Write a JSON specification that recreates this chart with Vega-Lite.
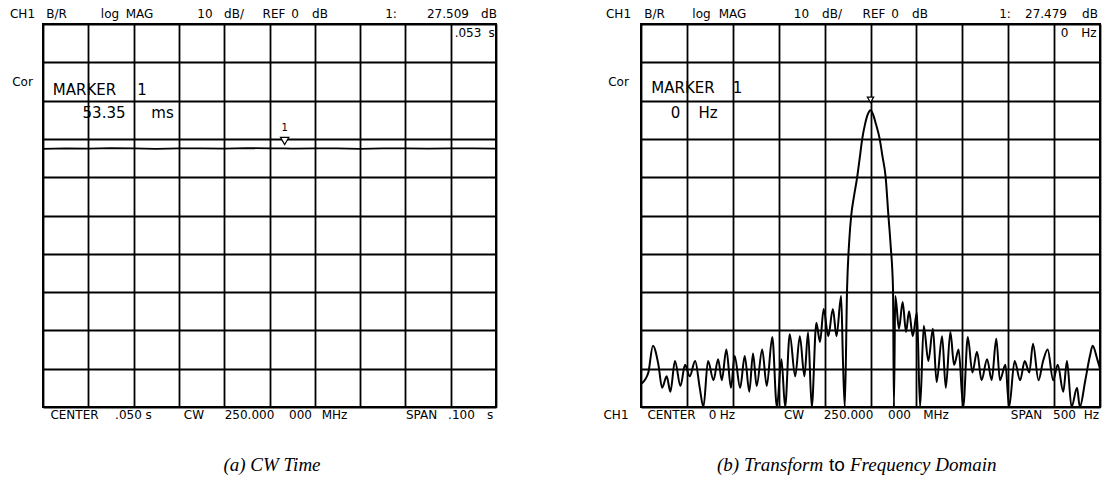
{
  "$schema": "https://vega.github.io/schema/vega-lite/v6.json",
  "background": "white",
  "padding": {"left": 8, "top": 7, "right": 2, "bottom": 2},
  "autosize": {"type": "pad"},
  "spacing": 145,
  "bounds": "flush",
  "config": {
    "view": {"stroke": "black", "strokeWidth": 2},
    "axis": {"grid": true, "gridColor": "black", "gridOpacity": 1, "gridWidth": 1.8, "labels": false, "ticks": false, "domain": false, "title": null},
    "text": {"font": "DejaVu Sans", "fontSize": 12, "color": "black", "align": "center", "baseline": "middle"}
  },
  "datasets": {
    "traceL": [
      {"x": 0, "y": 27.4}, {"x": 0.005, "y": 27.5}, {"x": 0.01, "y": 27.45}, {"x": 0.015, "y": 27.6},
      {"x": 0.02, "y": 27.5}, {"x": 0.025, "y": 27.4}, {"x": 0.03, "y": 27.55}, {"x": 0.035, "y": 27.5},
      {"x": 0.04, "y": 27.45}, {"x": 0.045, "y": 27.6}, {"x": 0.05, "y": 27.5}, {"x": 0.05335, "y": 27.51},
      {"x": 0.055, "y": 27.45}, {"x": 0.06, "y": 27.55}, {"x": 0.065, "y": 27.5}, {"x": 0.07, "y": 27.4},
      {"x": 0.075, "y": 27.55}, {"x": 0.08, "y": 27.5}, {"x": 0.085, "y": 27.45}, {"x": 0.09, "y": 27.55},
      {"x": 0.095, "y": 27.5}, {"x": 0.1, "y": 27.45}
    ],
    "markerL": [{"x": 0.05335, "y": 29.45, "text": "1", "ty": 32.85}],
    "markerR": [{"x": 0, "y": 30.2}],
    "labL": [
      {"x": -0.004525, "y": 62.61, "text": "CH1"}, {"x": 0.00298, "y": 62.61, "text": "B/R"},
      {"x": 0.01479, "y": 62.61, "text": "log"}, {"x": 0.0213, "y": 62.61, "text": "MAG"},
      {"x": 0.03576, "y": 62.61, "text": "10"}, {"x": 0.04216, "y": 62.61, "text": "dB/"},
      {"x": 0.05099, "y": 62.61, "text": "REF"}, {"x": 0.05563, "y": 62.61, "text": "0"},
      {"x": 0.06115, "y": 62.61, "text": "dB"}, {"x": 0.07682, "y": 62.61, "text": "1:"},
      {"x": 0.0894, "y": 62.61, "text": "27.509"}, {"x": 0.09845, "y": 62.61, "text": "dB"},
      {"x": 0.09382, "y": 57.65, "text": ".053"}, {"x": 0.09901, "y": 57.65, "text": "s"},
      {"x": -0.004525, "y": 44.86, "text": "Cor"},
      {"x": 0.00695, "y": -42.09, "text": "CENTER"}, {"x": 0.01887, "y": -42.09, "text": ".050"},
      {"x": 0.02329, "y": -42.09, "text": "s"}, {"x": 0.03333, "y": -42.09, "text": "CW"},
      {"x": 0.04558, "y": -42.09, "text": "250.000"}, {"x": 0.05684, "y": -42.09, "text": "000"},
      {"x": 0.06435, "y": -42.09, "text": "MHz"}, {"x": 0.08356, "y": -42.09, "text": "SPAN"},
      {"x": 0.09238, "y": -42.09, "text": ".100"}, {"x": 0.09868, "y": -42.09, "text": "s"}
    ],
    "mkL": [
      {"x": 0.00916, "y": 42.77, "text": "MARKER"}, {"x": 0.02185, "y": 42.77, "text": "1"},
      {"x": 0.01347, "y": 36.76, "text": "53.35"}, {"x": 0.02638, "y": 36.76, "text": "ms"}
    ],
    "capL": [{"x": 0.05055, "y": -55.15, "text": "(a) CW Time"}],
    "traceR": [
      {"x": -250, "y": -44}, {"x": -246, "y": -43}, {"x": -242, "y": -41}, {"x": -237, "y": -34},
      {"x": -231, "y": -39}, {"x": -227, "y": -45}, {"x": -222, "y": -42}, {"x": -218, "y": -46},
      {"x": -213, "y": -38}, {"x": -207, "y": -44.5}, {"x": -202, "y": -39}, {"x": -197, "y": -42},
      {"x": -191, "y": -38}, {"x": -186, "y": -45}, {"x": -182, "y": -50}, {"x": -177, "y": -38},
      {"x": -171, "y": -43}, {"x": -166, "y": -37.5}, {"x": -162, "y": -43}, {"x": -157, "y": -35},
      {"x": -152, "y": -45}, {"x": -148, "y": -36.7}, {"x": -142, "y": -45}, {"x": -137, "y": -36.7},
      {"x": -132, "y": -46}, {"x": -128, "y": -36}, {"x": -124, "y": -44.5}, {"x": -118, "y": -35},
      {"x": -113, "y": -44.5}, {"x": -107, "y": -31.7}, {"x": -102, "y": -50}, {"x": -97, "y": -37.5},
      {"x": -93, "y": -50}, {"x": -88, "y": -31}, {"x": -82, "y": -42}, {"x": -77, "y": -31.5},
      {"x": -72, "y": -42}, {"x": -68, "y": -30.5}, {"x": -64, "y": -50}, {"x": -59, "y": -28},
      {"x": -55, "y": -33}, {"x": -51, "y": -24.4}, {"x": -46, "y": -31.5}, {"x": -41, "y": -24.4},
      {"x": -37, "y": -31.5}, {"x": -32, "y": -21}, {"x": -30, "y": -38}, {"x": -28, "y": -50},
      {"x": -25.5, "y": -19}, {"x": -23, "y": -6}, {"x": -21, "y": 0}, {"x": -18, "y": 5},
      {"x": -14.5, "y": 10}, {"x": -12, "y": 14.5}, {"x": -9, "y": 20}, {"x": -6, "y": 23.8},
      {"x": -3, "y": 26.4}, {"x": 0, "y": 27.48}, {"x": 3, "y": 26.3}, {"x": 6, "y": 23.8},
      {"x": 10, "y": 20}, {"x": 13, "y": 15.5}, {"x": 16.5, "y": 10}, {"x": 19.5, "y": 0},
      {"x": 22, "y": -8}, {"x": 24.5, "y": -19}, {"x": 25.5, "y": -50}, {"x": 27, "y": -21},
      {"x": 31, "y": -29.6}, {"x": 35, "y": -22.6}, {"x": 38.7, "y": -30.4}, {"x": 42, "y": -25},
      {"x": 46, "y": -31.5}, {"x": 50.6, "y": -25.3}, {"x": 54, "y": -50}, {"x": 58, "y": -28.8},
      {"x": 63, "y": -38}, {"x": 68, "y": -29.6}, {"x": 72, "y": -43.5}, {"x": 78, "y": -31.5},
      {"x": 82, "y": -45}, {"x": 87, "y": -30.4}, {"x": 91, "y": -39}, {"x": 96, "y": -35},
      {"x": 101, "y": -50}, {"x": 106, "y": -31.7}, {"x": 111, "y": -41}, {"x": 116, "y": -35.6},
      {"x": 121, "y": -43}, {"x": 127, "y": -37.5}, {"x": 132, "y": -43}, {"x": 137, "y": -32.2},
      {"x": 141, "y": -43}, {"x": 147, "y": -39}, {"x": 151, "y": -50}, {"x": 157, "y": -38},
      {"x": 163, "y": -43}, {"x": 168, "y": -38}, {"x": 173, "y": -41}, {"x": 177, "y": -33.5},
      {"x": 183, "y": -43}, {"x": 188, "y": -38}, {"x": 193, "y": -35}, {"x": 199, "y": -43},
      {"x": 204, "y": -39}, {"x": 210, "y": -46}, {"x": 214, "y": -38}, {"x": 219, "y": -50},
      {"x": 225, "y": -45}, {"x": 228, "y": -50}, {"x": 234, "y": -43}, {"x": 239, "y": -36.7},
      {"x": 242, "y": -34}, {"x": 247, "y": -37.5}, {"x": 250, "y": -40}
    ],
    "labR": [
      {"x": -274.51, "y": 52.61, "text": "CH1"}, {"x": -235.29, "y": 52.61, "text": "B/R"},
      {"x": -184.1, "y": 52.61, "text": "log"}, {"x": -150.33, "y": 52.61, "text": "MAG"},
      {"x": -75.16, "y": 52.61, "text": "10"}, {"x": -41.94, "y": 52.61, "text": "dB/"},
      {"x": 3.81, "y": 52.61, "text": "REF"}, {"x": 26.69, "y": 52.61, "text": "0"},
      {"x": 53.92, "y": 52.61, "text": "dB"}, {"x": 146.51, "y": 52.61, "text": "1:"},
      {"x": 191.17, "y": 52.61, "text": "27.479"}, {"x": 239.1, "y": 52.61, "text": "dB"},
      {"x": 211.33, "y": 47.65, "text": "0"}, {"x": 238.02, "y": 47.65, "text": "Hz"},
      {"x": -274.51, "y": 34.86, "text": "Cor"},
      {"x": -277.23, "y": -52.09, "text": "CH1"}, {"x": -216.78, "y": -52.09, "text": "CENTER"},
      {"x": -172.11, "y": -52.09, "text": "0"}, {"x": -155.77, "y": -52.09, "text": "Hz"},
      {"x": -83.33, "y": -52.09, "text": "CW"}, {"x": -23.97, "y": -52.09, "text": "250.000"},
      {"x": 31.59, "y": -52.09, "text": "000"}, {"x": 71.35, "y": -52.09, "text": "MHz"},
      {"x": 169.93, "y": -52.09, "text": "SPAN"}, {"x": 211.33, "y": -52.09, "text": "500"},
      {"x": 240.74, "y": -52.09, "text": "Hz"}
    ],
    "mkR": [
      {"x": -204.25, "y": 33.42, "text": "MARKER"}, {"x": -144.88, "y": 33.42, "text": "1"},
      {"x": -212.42, "y": 26.76, "text": "0"}, {"x": -177.02, "y": 26.76, "text": "Hz"}
    ],
    "capRi": [
      {"x": -167.21, "y": -65.15, "text": "(b) Transform"},
      {"x": -22.33, "y": -65.15, "text": "Frequency Domain"}
    ],
    "capRu": [{"x": -45.21, "y": -65.15, "text": "to"}]
  },
  "hconcat": [
    {
      "width": 453,
      "height": 383,
      "encoding": {
        "x": {"field": "x", "type": "quantitative", "scale": {"domain": [0, 0.1], "nice": false, "zero": false},
              "axis": {"values": [0, 0.01, 0.02, 0.03, 0.04, 0.05, 0.06, 0.07, 0.08, 0.09, 0.1]}},
        "y": {"field": "y", "type": "quantitative", "scale": {"domain": [-40, 60], "nice": false, "zero": false},
              "axis": {"values": [-40, -30, -20, -10, 0, 10, 20, 30, 40, 50, 60]}}
      },
      "layer": [
        {"data": {"name": "traceL"}, "mark": {"type": "line", "color": "black", "strokeWidth": 1.8}},
        {"data": {"name": "markerL"}, "mark": {"type": "point", "shape": "triangle-down", "size": 70, "filled": true, "fill": "white", "stroke": "black", "strokeWidth": 1.2, "opacity": 1}},
        {"data": {"name": "markerL"}, "mark": {"type": "text", "fontSize": 10}, "encoding": {"y": {"field": "ty", "type": "quantitative"}, "text": {"field": "text"}}},
        {"data": {"name": "labL"}, "mark": {"type": "text"}, "encoding": {"text": {"field": "text"}}},
        {"data": {"name": "mkL"}, "mark": {"type": "text", "fontSize": 15}, "encoding": {"text": {"field": "text"}}},
        {"data": {"name": "capL"}, "mark": {"type": "text", "font": "Liberation Serif", "fontStyle": "italic", "fontSize": 19}, "encoding": {"text": {"field": "text"}}}
      ]
    },
    {
      "width": 459,
      "height": 383,
      "encoding": {
        "x": {"field": "x", "type": "quantitative", "scale": {"domain": [-250, 250], "nice": false, "zero": false},
              "axis": {"values": [-250, -200, -150, -100, -50, 0, 50, 100, 150, 200, 250]}},
        "y": {"field": "y", "type": "quantitative", "scale": {"domain": [-50, 50], "nice": false, "zero": false},
              "axis": {"values": [-50, -40, -30, -20, -10, 0, 10, 20, 30, 40, 50]}}
      },
      "layer": [
        {"data": {"name": "traceR"}, "mark": {"type": "line", "color": "black", "strokeWidth": 2, "interpolate": "monotone"}},
        {"data": {"name": "markerR"}, "mark": {"type": "point", "shape": "triangle-down", "size": 40, "filled": true, "fill": "white", "stroke": "black", "strokeWidth": 1.2, "opacity": 1}},
        {"data": {"name": "labR"}, "mark": {"type": "text"}, "encoding": {"text": {"field": "text"}}},
        {"data": {"name": "mkR"}, "mark": {"type": "text", "fontSize": 15}, "encoding": {"text": {"field": "text"}}},
        {"data": {"name": "capRi"}, "mark": {"type": "text", "font": "Liberation Serif", "fontStyle": "italic", "fontSize": 19, "align": "left"}, "encoding": {"text": {"field": "text"}}},
        {"data": {"name": "capRu"}, "mark": {"type": "text", "font": "Liberation Sans", "fontSize": 19, "align": "left"}, "encoding": {"text": {"field": "text"}}}
      ]
    }
  ]
}
